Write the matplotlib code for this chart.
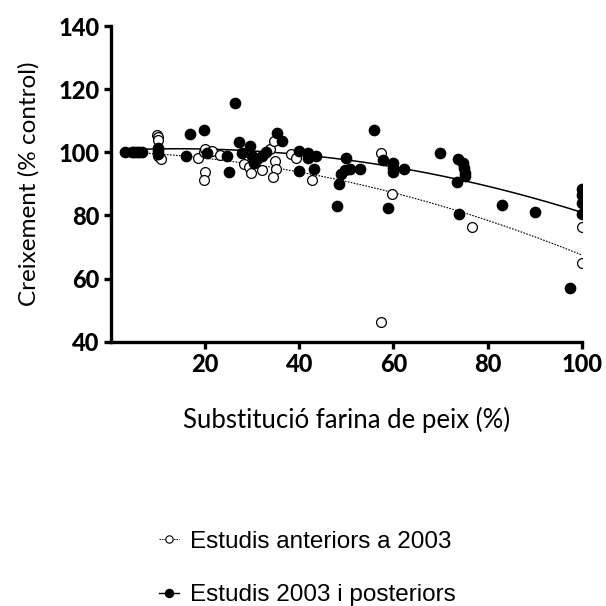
import numpy as np
import matplotlib
matplotlib.use("Agg")
import matplotlib.pyplot as plt
from matplotlib.lines import Line2D

# Estudis anteriors a 2003 (cercles buits)
x_open = [9.7, 9.9, 10.0, 9.9, 10.7, 18.5, 19.7, 19.9, 20.0, 19.7, 21.4, 23.2,
          28.3, 29.4, 29.8, 32.0, 33.7, 34.7, 34.9, 35.0, 34.5, 38.2, 39.4,
          42.7, 57.4, 59.6, 57.4, 76.6, 100.0, 100.0]
y_open = [105.5, 105.0, 104.0, 98.8, 98.0, 98.1, 100.0, 101.0, 93.8, 91.1, 100.4, 99.1,
          96.2, 95.4, 93.5, 94.3, 101.0, 103.6, 97.4, 94.6, 92.1, 99.4, 98.3,
          91.1, 99.9, 86.8, 46.2, 76.5, 76.4, 65.0]

# Estudis 2003 i posteriors (cercles plens)
x_fill = [3.0, 4.5, 5.0, 5.5, 6.0, 6.5, 10.0, 10.0, 10.0, 16.0, 16.8, 19.7, 20.5,
          24.6, 25.0, 26.3, 27.1, 27.9, 29.6, 30.0, 30.4, 31.0, 32.0, 32.9, 35.3,
          36.4, 39.9, 39.9, 41.9, 41.9, 43.1, 43.5, 48.0, 48.5, 48.9, 50.0, 49.7,
          50.8, 53.0, 55.9, 57.7, 58.9, 60.0, 60.0, 60.0, 62.2, 69.8, 73.7, 73.5,
          74.0, 74.8, 75.0, 75.2, 75.2, 83.0, 90.0, 97.5, 100.0, 100.0, 100.0, 100.0]
y_fill = [100.0, 100.0, 100.0, 100.0, 100.0, 100.0, 101.5, 100.5, 99.5, 99.0, 105.7, 107.0, 99.9,
          98.8, 93.8, 115.6, 103.4, 99.7, 102.0, 98.8, 96.7, 97.8, 98.8, 100.0, 106.0,
          103.6, 100.4, 94.0, 99.9, 98.3, 94.8, 98.8, 83.1, 90.0, 93.2, 98.3, 94.3,
          94.8, 94.6, 107.0, 97.6, 82.3, 96.7, 95.1, 93.8, 94.6, 99.9, 97.8, 90.6,
          80.4, 96.7, 95.0, 93.5, 92.4, 83.2, 81.1, 57.0, 88.5, 86.5, 84.0, 80.5]

# coeficients dels ajusts quadratics (llegits del grafic)
fit_open = [-0.00275, -0.053, 100.3]
fit_fill = [-0.00273, 0.077, 100.6]
fit_range = [3, 100]

xticks = [20, 40, 60, 80, 100]
yticks = [40, 60, 80, 100, 120, 140]

fig = plt.figure(figsize=(6.06, 6.06), dpi=100)
ax = fig.add_axes([0.183, 0.436, 0.777, 0.521])

xs = np.linspace(fit_range[0], fit_range[1], 200)
ax.plot(xs, np.polyval(fit_open, xs), color="black", lw=0.8, ls=(0, (1.5, 1.2)), zorder=2)
ax.plot(xs, np.polyval(fit_fill, xs), color="black", lw=1.1, ls="-", zorder=2)

ax.scatter(x_open, y_open, s=50, facecolors="white", edgecolors="black", linewidths=0.9, zorder=3)
ax.scatter(x_fill, y_fill, s=55, color="black", zorder=4)

ax.set_xlim(0, 100)
ax.set_ylim(40, 140)
ax.set_xticks(xticks)
ax.set_yticks(yticks)
for s in ["top", "right"]:
    ax.spines[s].set_visible(False)
for s in ["left", "bottom"]:
    ax.spines[s].set_linewidth(2.4)
ax.tick_params(width=2.4, length=5, labelsize=17, pad=3)
for lab in ax.get_xticklabels() + ax.get_yticklabels():
    lab.set_fontfamily("Lato")
    lab.set_fontweight("black")

ax.set_xlabel("Substitució farina de peix (%)", fontsize=18.5, family="Lato", labelpad=22)
ax.set_ylabel("Creixement (% control)", fontsize=17.5, family="Lato", labelpad=14)

h_open = Line2D([], [], color="black", lw=0.7, ls=(0, (1.5, 1)), marker="o",
                markersize=5.3, markerfacecolor="white", markeredgewidth=0.8)
h_fill = Line2D([], [], color="black", lw=1.0, marker="o", markersize=5.8)
fig.legend([h_open, h_fill], ["Estudis anteriors a 2003", "Estudis 2003 i posteriors"],
           loc="center left", bbox_to_anchor=(0.262, 0.062), frameon=False,
           prop={"family": "Liberation Sans", "size": 17.5}, handlelength=0.85,
           handletextpad=0.45, labelspacing=1.3, borderpad=0, borderaxespad=0)

fig.savefig("out.png", dpi=100)
